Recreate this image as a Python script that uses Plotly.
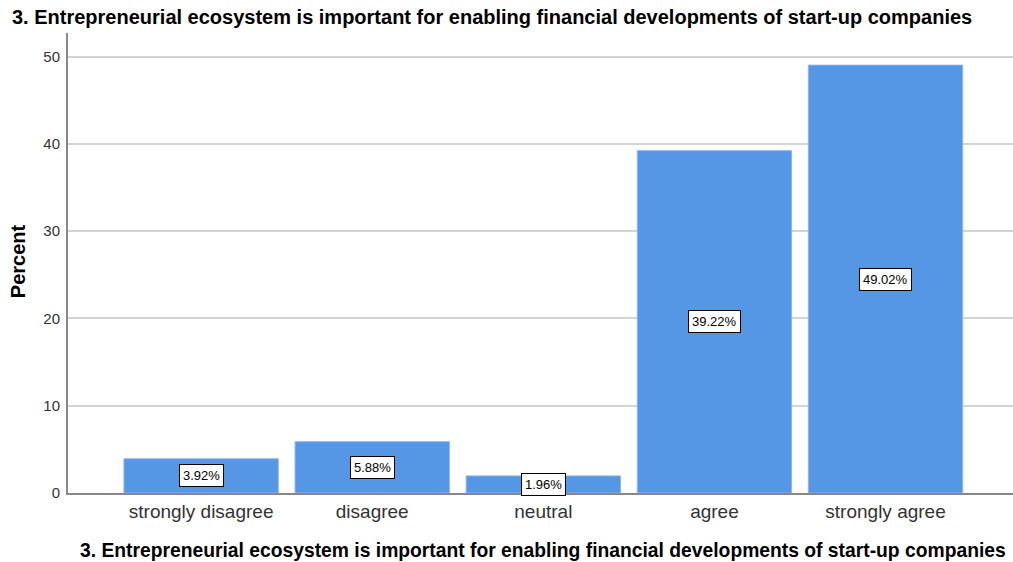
import plotly.graph_objects as go

categories = ["strongly disagree", "disagree", "neutral", "agree", "strongly agree"]
percents = [3.92, 5.88, 1.96, 39.22, 49.02]
label_texts = ["3.92%", "5.88%", "1.96%", "39.22%", "49.02%"]
y_ticks = [0, 10, 20, 30, 40, 50]
title_text = "3. Entrepreneurial ecosystem is important for enabling financial developments of start-up companies"
y_title = "Percent"

FONT = "Liberation Sans, Arial, sans-serif"

fig = go.Figure()
fig.add_trace(go.Bar(
    x=categories, y=percents,
    marker=dict(color="#5596e5", line=dict(color="#8db7ee", width=1)),
    hoverinfo="skip",
))

for c, v, t in zip(categories, percents, label_texts):
    fig.add_annotation(
        x=c, y=v / 2, text=t, showarrow=False,
        font=dict(family=FONT, size=13, color="#000000"),
        bgcolor="#ffffff", bordercolor="#000000", borderwidth=1, borderpad=3,
    )

# titles
fig.add_annotation(xref="paper", yref="paper", x=0.449, y=1.035,
                   xanchor="center", yanchor="middle", showarrow=False,
                   text="<b>" + title_text + "</b>",
                   font=dict(family=FONT, size=20, color="#000000"))
fig.add_annotation(xref="paper", yref="paper", x=0.503, y=-0.124,
                   xanchor="center", yanchor="middle", showarrow=False,
                   text="<b>" + title_text + "</b>",
                   font=dict(family=FONT, size=19.3, color="#000000"))
fig.add_annotation(xref="paper", yref="paper", x=-0.0529, y=0.504,
                   xanchor="center", yanchor="middle", showarrow=False,
                   textangle=-90, text="<b>" + y_title + "</b>",
                   font=dict(family=FONT, size=20, color="#000000"))

fig.update_layout(
    width=1013, height=562,
    margin=dict(l=68, r=0, t=33, b=69),
    paper_bgcolor="#ffffff", plot_bgcolor="#ffffff",
    bargap=0.098,
    showlegend=False,
    font=dict(family=FONT, color="#333333"),
)
fig.update_xaxes(
    type="category", range=[-0.778, 4.745], automargin=False,
    showline=True, linecolor="#888888", linewidth=2,
    showgrid=False, ticks="", ticklen=0,
    tickfont=dict(family=FONT, size=19, color="#333333"),
)
fig.update_yaxes(
    range=[0, 52.7], tickvals=y_ticks, automargin=False,
    showline=True, linecolor="#888888", linewidth=2,
    showgrid=True, gridcolor="#d4d4d4", gridwidth=1.5,
    zeroline=False, ticks="outside", ticklen=3, tickcolor="#ffffff",
    tickfont=dict(family=FONT, size=15, color="#333333"),
)

# remove the default 8px page margin so the figure fills the window exactly
fig.write_html(
    "out.html",
    config={"displayModeBar": False},
    post_script="document.body.style.margin='0';document.body.style.overflow='hidden';",
)
